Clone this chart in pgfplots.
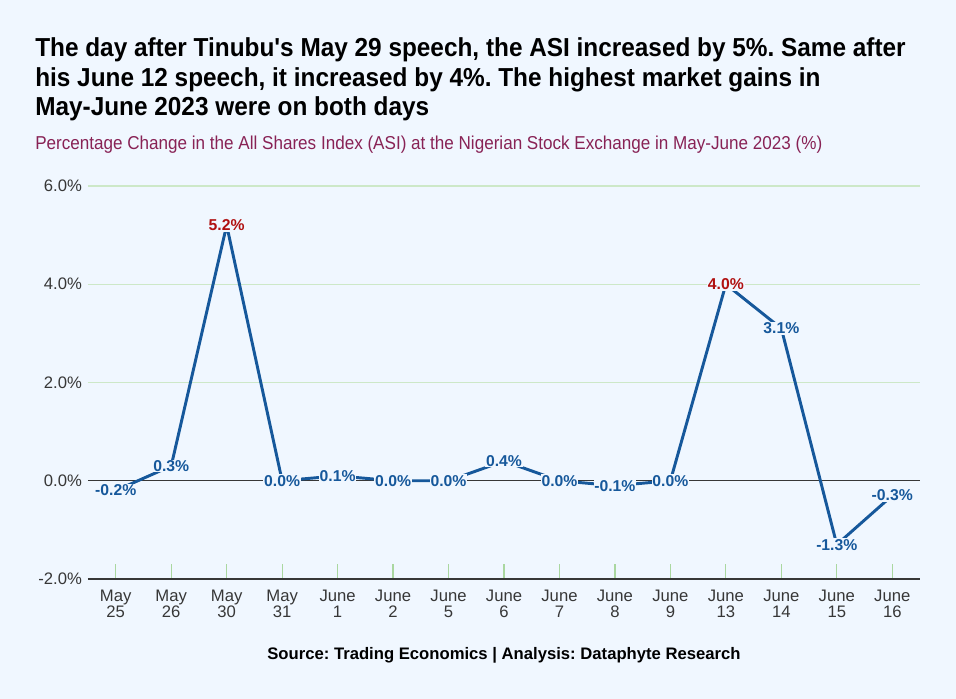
\documentclass[border=0pt]{standalone}
\usepackage{pgfplots}
\usepackage{pgfplotstable}
\pgfplotsset{compat=1.18}
\usepackage{fontspec}
\setmainfont{Liberation Sans}
\newfontfamily\narrowfont[FakeStretch=0.937]{Liberation Sans}
\newfontfamily\subfont[FakeStretch=0.915]{Liberation Sans}
\definecolor{bgcol}{RGB}{240,247,255}
\definecolor{linecol}{RGB}{22,88,155}
\definecolor{redlab}{RGB}{176,16,16}
\definecolor{gridgreen}{RGB}{205,232,200}
\definecolor{tickgreen}{RGB}{170,215,160}
\definecolor{subcol}{RGB}{136,34,85}
\definecolor{txtgray}{RGB}{55,55,55}

\pgfplotstableread{
x y
0 -0.2
1 0.3
2 5.2
3 0.0
4 0.1
5 0.0
6 0.0
7 0.4
8 0.0
9 -0.1
10 0.0
11 4.0
12 3.1
13 -1.3
14 -0.3
}\asidata

\pgfplotstableread{
x y
0 -0.2
1 0.3
3 0.0
4 0.1
5 0.0
6 0.0
7 0.4
8 0.0
9 -0.1
10 0.0
12 3.1
13 -1.3
14 -0.3
}\bluelabels

\pgfplotstableread{
x y
2 5.2
11 4.0
}\redlabels

\begin{document}
\frenchspacing
\begin{tikzpicture}[x=0.75pt,y=0.75pt]
\fill[bgcol] (0,0) rectangle (956,699);
\useasboundingbox (0,0) rectangle (956,699);

\node[anchor=base west,inner sep=0pt,font=\narrowfont\bfseries\fontsize{19.5}{21}\selectfont] at (35,642) {The day after Tinubu's May 29 speech, the ASI increased by 5\%. Same after};
\node[anchor=base west,inner sep=0pt,font=\narrowfont\bfseries\fontsize{19.5}{21}\selectfont] at (35,612) {his June 12 speech, it increased by 4\%. The highest market gains in};
\node[anchor=base west,inner sep=0pt,font=\narrowfont\bfseries\fontsize{19.5}{21}\selectfont] at (35,583) {May-June 2023 were on both days};
\node[anchor=base west,inner sep=0pt,text=subcol,font=\subfont\fontsize{14}{16}\selectfont] at (35,549) {Percentage Change in the All Shares Index (ASI) at the Nigerian Stock Exchange in May-June 2023 (\%)};
\node[anchor=base,inner sep=0pt,font=\bfseries\fontsize{12.5}{14}\selectfont] at (504,39) {Source: Trading Economics | Analysis: Dataphyte Research};

\begin{axis}[
  scale only axis,
  width=624pt, height=294.75pt,
  at={(66pt,90pt)}, anchor=south west,
  xmin=-0.5, xmax=14.5, ymin=-2, ymax=6,
  axis x line*=bottom, axis y line*=left,
  x axis line style={draw=txtgray, line width=1pt, -},
  y axis line style={draw=none},
  ytick={-2,0,2,4,6},
  ymajorgrids, grid style={gridgreen, line width=0.8pt},
  y tick style={draw=none},
  /pgf/number format/assume math mode=true,
  yticklabel={\pgfmathprintnumber[fixed,fixed zerofill,precision=1]{\tick}\%},
  yticklabel style={text=txtgray, font=\fontsize{12.5}{14}\selectfont, xshift=-1pt},
  xtick={0,...,14},
  xticklabels={{May\\25},{May\\26},{May\\30},{May\\31},{June\\1},{June\\2},{June\\5},{June\\6},{June\\7},{June\\8},{June\\9},{June\\13},{June\\14},{June\\15},{June\\16}},
  xticklabel style={align=center, text=txtgray, font=\fontsize{12.5}{12.2}\selectfont, yshift=-4.5pt},
  tick align=inside,
  major tick length=11pt,
  x tick style={draw=tickgreen, line width=0.9pt},
  clip=false,
]
\addplot[txtgray, line width=0.8pt, forget plot] coordinates {(-0.5,0) (14.5,0)};
\addplot[linecol, line width=2.2pt, mark=none] table[x=x,y=y] {\asidata};
\addplot[draw=none, mark=none, point meta=explicit,
  nodes near coords={\pgfmathprintnumber[fixed,fixed zerofill,precision=1]{\pgfplotspointmeta}\%},
  nodes near coords style={anchor=center, text=linecol, fill=bgcol, inner sep=0.6pt, font=\bfseries\fontsize{11.8}{13}\selectfont}]
  table[x=x,y=y,meta=y] {\bluelabels};
\addplot[draw=none, mark=none, point meta=explicit,
  nodes near coords={\pgfmathprintnumber[fixed,fixed zerofill,precision=1]{\pgfplotspointmeta}\%},
  nodes near coords style={anchor=center, text=redlab, fill=bgcol, inner sep=0.6pt, font=\bfseries\fontsize{11.8}{13}\selectfont}]
  table[x=x,y=y,meta=y] {\redlabels};
\end{axis}
\end{tikzpicture}
\end{document}
